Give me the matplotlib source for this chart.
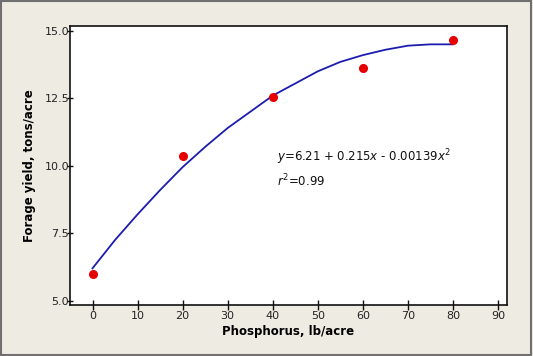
import matplotlib
matplotlib.use("Agg")
import matplotlib.pyplot as plt
from matplotlib.patches import Rectangle

# Observed data
phosphorus = [0, 20, 40, 60, 80]
yield_obs = [6.0, 10.35, 12.55, 13.63, 14.66]

# Fitted curve
curve_x = [0, 5, 10, 15, 20, 25, 30, 35, 40, 45, 50, 55, 60, 65, 70, 75, 80]
curve_y = [6.2, 7.25, 8.2, 9.1, 9.95, 10.7, 11.4, 12.0, 12.6, 13.05, 13.5,
           13.85, 14.1, 14.3, 14.45, 14.5, 14.5]

x_ticks = [0, 10, 20, 30, 40, 50, 60, 70, 80, 90]
y_ticks = [5.0, 7.5, 10.0, 12.5, 15.0]
y_tick_labels = ["5.0", "7.5", "10.0", "12.5", "15.0"]

plt.rcParams['font.family'] = ['DejaVu Sans']

fig = plt.figure(figsize=(5.33, 3.56), dpi=100)
fig.patch.set_facecolor('#EEEBE3')
fig.patches.append(Rectangle((0.002, 0.003), 0.995, 0.993, transform=fig.transFigure,
                             fill=False, edgecolor='#707070', linewidth=1.5))

ax = fig.add_axes([70/533, (356-305)/356, 437/533, 279/356])
ax.set_facecolor('white')

ax.plot(curve_x, curve_y, color='#1C1CB0', linewidth=1.3, zorder=2)
ax.plot(phosphorus, yield_obs, 'o', color='#E60000', markersize=5.5, zorder=3)

ax.set_xlim(-5, 92)
ax.set_ylim(4.84, 15.18)
ax.set_xticks(x_ticks)
ax.set_yticks(y_ticks)
ax.set_yticklabels(y_tick_labels)

for s in ax.spines.values():
    s.set_color('#111111')
    s.set_linewidth(1.2)

ax.tick_params(axis='x', direction='inout', length=7, width=1, labelsize=8,
               pad=1, colors='#111111', labelcolor='#222222')
ax.tick_params(axis='y', direction='inout', length=5, width=1, labelsize=8,
               pad=-2, colors='#111111', labelcolor='#222222')

ax.set_xlabel('Phosphorus, lb/acre', fontsize=8.5, fontweight='bold', labelpad=3)
ax.set_ylabel('Forage yield, tons/acre', fontsize=8.5, fontweight='bold', labelpad=6)

ax.text(41.0, 10.33, r'$y$=6.21 + 0.215$x$ - 0.00139$x^2$', fontsize=8.5,
        va='center', ha='left', color='#111111')
ax.text(41.0, 9.45, r'$r^2$=0.99', fontsize=8.5, va='center', ha='left', color='#111111')

fig.savefig('out.png', dpi=100, facecolor=fig.get_facecolor())
